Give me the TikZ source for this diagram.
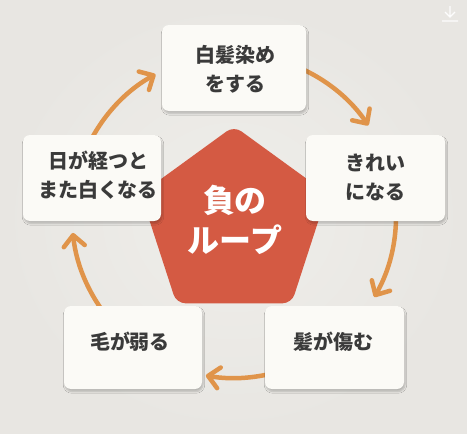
\documentclass[tikz,border=0pt]{standalone}
\usepackage{fontspec}
\newfontfamily\jp{Noto Sans CJK JP}
\usetikzlibrary{shapes.geometric,arrows.meta,shadows.blur}
\definecolor{bgc}{RGB}{232,230,226}
\definecolor{bgin}{RGB}{239,238,234}
\definecolor{boxc}{RGB}{251,250,246}
\definecolor{penc}{RGB}{212,90,67}
\definecolor{arrc}{RGB}{224,148,74}
\definecolor{txtc}{RGB}{58,58,58}
\tikzset{
  cyclebox/.style={draw=none, fill=boxc, rounded corners=7pt, inner sep=0pt,
    blur shadow={shadow xshift=1pt, shadow yshift=-2.5pt, shadow blur steps=6, shadow blur extra rounding=2pt, shadow opacity=22}},
  boxtext/.style={font=\jp\bfseries\fontsize{20}{29}\selectfont, text=txtc, align=center, inner sep=0pt},
  looptext/.style={font=\jp\bfseries\fontsize{32}{40}\selectfont, text=white, align=center, inner sep=0pt},
  cyclearrow/.style={draw=arrc, line width=4.5pt, line cap=round,
    -{Straight Barb[length=11pt,width=21pt,line cap=round,line join=round]}},
}
\begin{document}
\begin{tikzpicture}[x=1pt,y=-1pt]
\useasboundingbox (0,0) rectangle (467,434);
\shade[inner color=bgin, outer color=bgc] (0,0) rectangle (467,434);
% download icon
\draw[white!92!bgc, line width=1.3pt] (450,6) -- (450,17) (445,12) -- (450,17) -- (455,12) (442,21) -- (458,21);
% central pentagon
\node[regular polygon, regular polygon sides=5, minimum size=196pt, inner sep=0pt,
  fill=penc, rounded corners=9pt] (loop) at (234,224) {};
\node[looptext] (looplabel) at (235,220) {負の\\ループ};
% arrows on the circle
\coordinate (c) at (234,216);
\def\R{162}
\draw[cyclearrow] (c) ++(-72:\R) arc[start angle=-72, end angle=-34, radius=\R];
\draw[cyclearrow] (c) ++(-8:\R) arc[start angle=-8, end angle=30, radius=\R];
\draw[cyclearrow] (c) ++(72:\R) arc[start angle=72, end angle=100, radius=\R];
\draw[cyclearrow] (c) ++(138:\R) arc[start angle=138, end angle=174, radius=\R];
\draw[cyclearrow] (c) ++(200:\R) arc[start angle=200, end angle=241, radius=\R];
% boxes
\node[cyclebox, minimum width=144pt, minimum height=86pt] (top) at (234,68) {};
\node[cyclebox, minimum width=139pt, minimum height=86pt] (right) at (375.5,178) {};
\node[cyclebox, minimum width=139pt, minimum height=83pt] (bright) at (334.5,347.5) {};
\node[cyclebox, minimum width=138pt, minimum height=83pt] (bleft) at (133,347.5) {};
\node[cyclebox, minimum width=138pt, minimum height=86pt] (left) at (92,178) {};
% texts
\node[boxtext] (ttop) at (235,69) {白髪染め\\をする};
\node[boxtext] (tright) at (375,177) {きれい\\になる};
\node[boxtext] (tbright) at (333,342) {髪が傷む};
\node[boxtext] (tbleft) at (130,342) {毛が弱る};
\node[boxtext] (tleft) at (98,175) {日が経つと\\また白くなる};
\end{tikzpicture}
\end{document}
